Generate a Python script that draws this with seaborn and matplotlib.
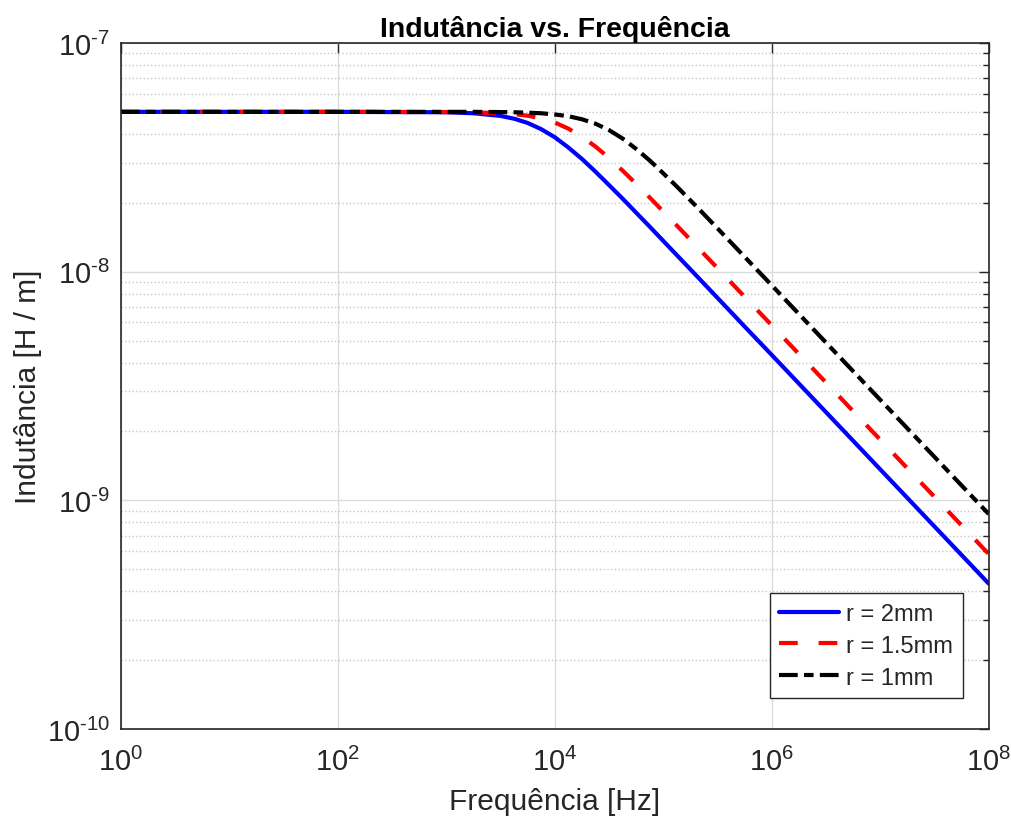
import matplotlib
matplotlib.use("Agg")
import matplotlib.pyplot as plt
import matplotlib.ticker as mticker
import seaborn as sns
import pandas as pd

sns.set_theme(style="white")
plt.rcParams['font.family'] = ['Liberation Sans', 'DejaVu Sans']
plt.rcParams['mathtext.fontset'] = 'custom'
plt.rcParams['mathtext.rm'] = 'Liberation Sans'
plt.rcParams['mathtext.default'] = 'regular'

# frequencies [Hz] at which the curves were read
freq = [1, 10, 100, 1000, 1778, 3162, 4217, 5623, 7499, 1e4, 13335, 17783,
        23714, 31623, 42170, 56234, 74989, 1e5, 133352, 177828, 237137,
        316228, 421697, 562341, 1e6, 1e7, 1e8]

# inductance [H/m]
L_r2 = [5e-8, 5e-8, 5e-8, 4.98e-8, 4.93e-8, 4.80e-8, 4.665e-8, 4.47e-8,
        4.198e-8, 3.87e-8, 3.49e-8, 3.11e-8, 2.736e-8, 2.39e-8, 2.085e-8,
        1.81e-8, 1.572e-8, 1.362e-8, 1.18e-8, 1.023e-8, 8.86e-9, 7.67e-9,
        6.645e-9, 5.75e-9, 4.32e-9, 1.365e-9, 4.32e-10]
L_r15 = [5e-8, 5e-8, 5e-8, 4.99e-8, 4.98e-8, 4.93e-8, 4.886e-8, 4.81e-8,
         4.677e-8, 4.49e-8, 4.221e-8, 3.89e-8, 3.523e-8, 3.14e-8, 2.765e-8,
         2.42e-8, 2.109e-8, 1.83e-8, 1.59e-8, 1.378e-8, 1.194e-8, 1.035e-8,
         8.96e-9, 7.76e-9, 5.82e-9, 1.84e-9, 5.82e-10]
L_r1 = [5e-8, 5e-8, 5e-8, 5e-8, 5e-8, 4.99e-8, 4.98e-8, 4.96e-8,
        4.93e-8, 4.87e-8, 4.785e-8, 4.64e-8, 4.437e-8, 4.16e-8, 3.82e-8,
        3.44e-8, 3.062e-8, 2.69e-8, 2.355e-8, 2.05e-8, 1.781e-8, 1.545e-8,
        1.339e-8, 1.16e-8, 8.71e-9, 2.75e-9, 8.71e-10]

labels = ["r = 2mm", "r = 1.5mm", "r = 1mm"]

xtick_pos = [1, 1e2, 1e4, 1e6, 1e8]
xtick_lab = [r"$10^{0}$", r"$10^{2}$", r"$10^{4}$", r"$10^{6}$", r"$10^{8}$"]
ytick_pos = [1e-10, 1e-9, 1e-8, 1e-7]
ytick_lab = [r"$10^{\text{-}10}$", r"$10^{\text{-}9}$", r"$10^{\text{-}8}$",
             r"$10^{\text{-}7}$"]

df = pd.concat([
    pd.DataFrame({"f": freq, "L": L_r2, "raio": labels[0]}),
    pd.DataFrame({"f": freq, "L": L_r15, "raio": labels[1]}),
    pd.DataFrame({"f": freq, "L": L_r1, "raio": labels[2]}),
])

pal = {labels[0]: "#0000ff", labels[1]: "#ff0000", labels[2]: "#000000"}
dash = {labels[0]: "", labels[1]: (4.5, 5.0), labels[2]: (4.5, 1.5, 2.3, 1.5)}

fig = plt.figure(figsize=(10.11, 8.2), dpi=100)
ax = fig.add_axes([0.1197, 0.1098, 0.8583, 0.8365])

sns.lineplot(data=df, x="f", y="L", hue="raio", style="raio", palette=pal,
             dashes=dash, linewidth=3, estimator=None, sort=False, ax=ax)

ax.set_xscale("log")
ax.set_yscale("log")
ax.set_xlim(1, 1e8)
ax.set_ylim(1e-10, 1e-7)

ax.set_xticks(xtick_pos, xtick_lab)
ax.xaxis.set_minor_locator(mticker.NullLocator())
ax.set_yticks(ytick_pos, ytick_lab)
minor_y = [m * 10.0 ** e for e in (-10, -9, -8) for m in range(2, 10)]
ax.yaxis.set_minor_locator(mticker.FixedLocator(minor_y))
ax.yaxis.set_minor_formatter(mticker.NullFormatter())

ax.grid(True, which="major", axis="both", color="#dcdcdc", linestyle="-", linewidth=1)
ax.grid(True, which="minor", axis="y", color="#c8c8c8", linestyle=":", linewidth=1)
ax.set_axisbelow(True)

ax.tick_params(which="both", direction="in", top=True, right=True,
               colors="#262626", labelsize=21)
ax.tick_params(which="major", length=7, width=1)
ax.tick_params(which="minor", length=4, width=1)
ax.tick_params(axis="x", pad=13)
ax.tick_params(axis="y", pad=8)
for s in ax.spines.values():
    s.set_color("#262626")
    s.set_linewidth(1.2)

ax.set_xlabel("Frequência [Hz]", fontsize=21.5, color="#262626", labelpad=8)
ax.set_ylabel("Indutância [H / m]", fontsize=21.5, color="#262626", labelpad=3)
ax.set_title("Indutância vs. Frequência", fontsize=20.5, fontweight="bold",
             color="black", pad=5)

h, l = ax.get_legend_handles_labels()
leg = ax.legend(h, l, loc="lower right", bbox_to_anchor=(0.97, 0.045),
                fontsize=17, frameon=True, fancybox=False, framealpha=1,
                edgecolor="#262626", handlelength=2.55, borderpad=0.4,
                labelspacing=0.42, handletextpad=0.3, borderaxespad=0)
leg.get_frame().set_linewidth(1)

fig.savefig("out.png", dpi=100)
